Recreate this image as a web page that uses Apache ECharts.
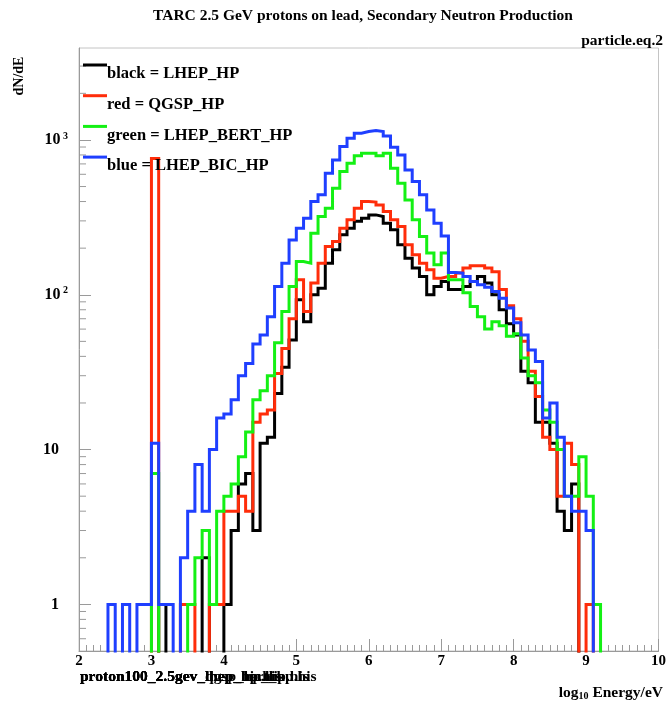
<!DOCTYPE html>
<html>
<head>
<meta charset="utf-8">
<script src="https://cdn.jsdelivr.net/npm/echarts@6/dist/echarts.min.js"></script>
<style>
  html, body { margin: 0; padding: 0; background: #fff; }
  #chart { width: 669px; height: 707px; }
</style>
</head>
<body>
<div id="chart"></div>
<script>
// Histogram binning: log10(E/eV) from 2.0 to 10.0 in steps of 0.1
const binStart = 2.0;
const binWidth = 0.1;

// Bin contents, one value per bin starting at 2.0
const lhepHP = [
  0, 0, 0, 0, 0, 0, 0, 0, 0, 0,
  0, 1, 0, 0, 0, 0, 0, 2, 0, 0,
  1, 3, 6, 7, 3, 11, 12, 23, 34, 51,
  93, 67, 100, 110, 160, 195, 244, 269, 298, 312,
  328, 320, 290, 263, 210, 172, 149, 131, 100, 113,
  122, 108, 108, 113, 122, 131, 119, 100, 80, 65,
  55, 32, 27, 15, 15, 11, 4, 3, 6, 0,
  0, 0, 0, 0, 0, 0, 0, 0, 0, 0
];
const qgspHP = [
  0, 0, 0, 0, 0, 0, 0, 0, 0, 0,
  760, 0, 0, 0, 1, 1, 0, 0, 1, 1,
  4, 4, 5, 4, 15, 17, 18, 31, 45, 70,
  125, 78, 119, 160, 205, 221, 269, 305, 362, 400,
  397, 380, 345, 305, 276, 210, 181, 160, 145, 128,
  131, 131, 138, 149, 154, 154, 149, 141, 108, 85,
  70, 50, 32, 22, 12, 10, 5, 11, 8, 0,
  1, 0, 0, 0, 0, 0, 0, 0, 0, 0
];
const lhepBertHP = [
  0, 0, 0, 0, 0, 0, 0, 0, 0, 0,
  7, 0, 0, 0, 0, 1, 2, 3, 1, 4,
  5, 6, 9, 13, 21, 24, 30, 49, 78, 113,
  164, 160, 250, 320, 362, 488, 625, 707, 789, 820,
  820, 789, 820, 657, 525, 410, 305, 238, 186, 156,
  186, 125, 125, 103, 84, 72, 60, 67, 63, 54,
  56, 39, 30, 27, 18, 15, 10, 5, 5, 9,
  5, 1, 0, 0, 0, 0, 0, 0, 0, 0
];
const lhepBicHP = [
  0, 0, 0, 0, 1, 0, 1, 0, 1, 1,
  11, 1, 1, 0, 2, 4, 8, 4, 10, 16,
  17, 21, 30, 36, 48, 55, 72, 113, 160, 226,
  269, 312, 400, 442, 609, 742, 906, 1025, 1105, 1132,
  1149, 1132, 1062, 897, 800, 640, 538, 442, 353, 290,
  240, 139, 138, 131, 122, 116, 112, 105, 95, 82,
  66, 55, 44, 37, 16, 20, 12, 5, 4, 4,
  3, 0, 0, 0, 0, 0, 0, 0, 0, 0
];

const seriesNames = ['LHEP_HP', 'QGSP_HP', 'LHEP_BERT_HP', 'LHEP_BIC_HP'];
const legendLabels = ['black = LHEP_HP', 'red = QGSP_HP', 'green = LHEP_BERT_HP', 'blue = LHEP_BIC_HP'];
const seriesValues = [lhepHP, qgspHP, lhepBertHP, lhepBicHP];
const seriesColors = ['#000000', '#ff2d0a', '#14f014', '#1f3fff'];

// Axis ranges and tick values
const xRange = [2, 10];
const yRange = [0.5, 3925];
const yMajorTicks = [1, 10, 100, 1000];
const yMinorTicks = [0.6, 0.7, 0.8, 0.9,
  2, 3, 4, 5, 6, 7, 8, 9,
  20, 30, 40, 50, 60, 70, 80, 90,
  200, 300, 400, 500, 600, 700, 800, 900,
  2000, 3000];

const titleText = 'TARC 2.5 GeV protons on lead, Secondary Neutron Production';
const cornerText = 'particle.eq.2';
const yTitle = 'dN/dE';
const fileNames = [
  'proton100_2.5gev_lhep_hp.his',
  'proton100_2.5gev_qgsp_hp.his',
  'proton100_2.5gev_lhep_bert_hp.his',
  'proton100_2.5gev_lhep_bic_hp.his'
];

const SERIF = '"Liberation Serif", "DejaVu Serif", serif';
const AXIS_GREY = '#9a9a9a';

// Turn bin contents into a step outline; empty bins fall far below the frame
function histOutline(values) {
  const pts = [];
  values.forEach((v, i) => {
    const lo = +(binStart + i * binWidth).toFixed(2);
    const hi = +(lo + binWidth).toFixed(2);
    const y = v > 0 ? v : 1e-4;
    pts.push([lo, y], [hi, y]);
  });
  return pts;
}

const chart = echarts.init(document.getElementById('chart'), null, { renderer: 'canvas' });

const histSeries = seriesValues.map((vals, k) => ({
  name: seriesNames[k],
  type: 'line',
  data: histOutline(vals),
  showSymbol: false,
  symbol: 'none',
  clip: true,
  sampling: null,
  lineStyle: { color: seriesColors[k], width: 3, join: 'miter', cap: 'butt' },
  z: 3 + k,
  animation: false
}));

const minorTickSeries = {
  type: 'custom',
  data: yMinorTicks.map(v => [xRange[0], v]),
  silent: true,
  z: 2,
  animation: false,
  renderItem: function (params, api) {
    const p = api.coord([api.value(0), api.value(1)]);
    return {
      type: 'line',
      shape: { x1: p[0], y1: p[1], x2: p[0] + 7, y2: p[1] },
      style: { stroke: AXIS_GREY, lineWidth: 1 }
    };
  }
};

const legendGraphics = [];
legendLabels.forEach((label, i) => {
  const yLine = 65 + i * 30.7;
  legendGraphics.push({
    type: 'line',
    shape: { x1: 83, y1: yLine, x2: 107, y2: yLine },
    style: { stroke: seriesColors[i], lineWidth: 3 },
    z: 10
  });
  legendGraphics.push({
    type: 'text',
    x: 107, y: yLine + 9,
    style: {
      text: label, font: 'bold 16.5px ' + SERIF, fill: '#000',
      textAlign: 'left', textVerticalAlign: 'middle'
    },
    z: 10
  });
});

const textGraphics = [
  {
    type: 'text', x: 363, y: 16,
    style: { text: titleText, font: 'bold 15.5px ' + SERIF, fill: '#000', textAlign: 'center', textVerticalAlign: 'middle' }
  },
  {
    type: 'text', x: 663, y: 41,
    style: { text: cornerText, font: 'bold 15.5px ' + SERIF, fill: '#000', textAlign: 'right', textVerticalAlign: 'middle' }
  },
  {
    type: 'text', x: 19, y: 76, rotation: Math.PI / 2,
    style: { text: yTitle, font: 'bold 14px ' + SERIF, fill: '#000', textAlign: 'center', textVerticalAlign: 'middle' }
  },
  {
    type: 'text', x: 663, y: 693,
    style: {
      text: '{m|log}{s|10}{m| Energy/eV}',
      textAlign: 'right', textVerticalAlign: 'middle',
      rich: {
        m: { font: 'bold 15.5px ' + SERIF, fill: '#000' },
        s: { font: 'bold 10px ' + SERIF, fill: '#000', verticalAlign: 'bottom', padding: [7, 0, 0, 0] }
      }
    }
  }
].concat(fileNames.map(name => ({
  type: 'text', x: 80, y: 677,
  style: { text: name, font: 'bold 15.5px ' + SERIF, fill: '#000', textAlign: 'left', textVerticalAlign: 'middle' }
})));

chart.setOption({
  animation: false,
  backgroundColor: '#fff',
  grid: {
    left: 79, right: 8, top: 48, bottom: 56,
    show: true, borderColor: '#c4c4c4', borderWidth: 1, backgroundColor: 'transparent'
  },
  xAxis: {
    type: 'value', min: xRange[0], max: xRange[1], interval: 1,
    axisLine: { show: true, lineStyle: { color: AXIS_GREY, width: 1 } },
    axisTick: { show: true, inside: true, length: 12, lineStyle: { color: AXIS_GREY } },
    minorTick: { show: true, splitNumber: 10, length: 6, lineStyle: { color: AXIS_GREY } },
    splitLine: { show: false },
    axisLabel: { color: '#000', fontFamily: SERIF, fontWeight: 'bold', fontSize: 15, margin: 3 }
  },
  yAxis: {
    type: 'log', logBase: 10, min: yRange[0], max: yRange[1],
    axisLine: { show: true, lineStyle: { color: AXIS_GREY, width: 1 } },
    axisTick: { show: true, inside: true, length: 12, lineStyle: { color: AXIS_GREY } },
    splitLine: { show: false },
    axisLabel: {
      showMinLabel: false, showMaxLabel: false, margin: 11,
      formatter: function (v) {
        const k = yMajorTicks.findIndex(t => Math.abs(t - v) / t < 1e-6);
        if (k < 0) return '';
        const exp = Math.round(Math.log10(v));
        if (exp === 0) return '{p|1}';
        if (exp === 1) return '{p|10}';
        return '{b|10}{s| ' + exp + '}';
      },
      rich: {
        p: { fontFamily: SERIF, fontWeight: 'bold', fontSize: 16, color: '#000', lineHeight: 18, padding: [0, 9, 0, 0] },
        b: { fontFamily: SERIF, fontWeight: 'bold', fontSize: 16, color: '#000', lineHeight: 18 },
        s: { fontFamily: SERIF, fontWeight: 'bold', fontSize: 10, color: '#000', verticalAlign: 'top', lineHeight: 18, padding: [0, 0, 7, 0] }
      }
    }
  },
  series: histSeries.concat([minorTickSeries]),
  graphic: legendGraphics.concat(textGraphics)
});
</script>
</body>
</html>
